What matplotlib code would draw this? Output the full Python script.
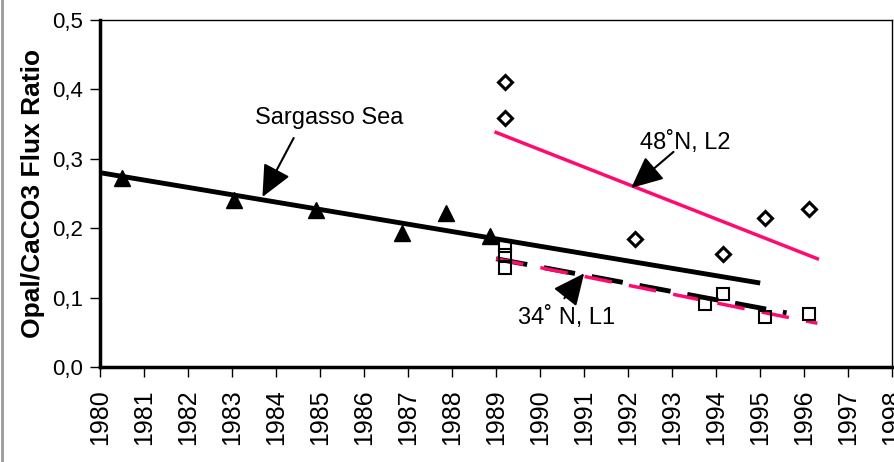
import numpy as np
import matplotlib.pyplot as plt

plt.rcParams['font.family'] = ['Liberation Sans', 'DejaVu Sans']

# Sargasso Sea (triangles)
sarg_year = [1980.5, 1983.05, 1984.9, 1986.85, 1987.85, 1988.85]
sarg_ratio = [0.272, 0.241, 0.226, 0.193, 0.222, 0.189]
sarg_fit_year = [1980.0, 1995.0]
sarg_fit_ratio = [0.280, 0.121]

# 48N, L2 (diamonds)
n48_year = [1989.2, 1989.2, 1992.15, 1994.15, 1995.1, 1996.1]
n48_ratio = [0.41, 0.359, 0.184, 0.163, 0.215, 0.228]
n48_fit_year = [1989.0, 1996.3]
n48_fit_ratio = [0.338, 0.156]

# 34N, L1 (squares)
n34_year = [1989.2, 1989.2, 1989.2, 1993.75, 1994.15, 1995.1, 1996.1]
n34_ratio = [0.143, 0.162, 0.174, 0.091, 0.105, 0.072, 0.076]
n34_fit_black_year = [1989.0, 1995.6]
n34_fit_black_ratio = [0.156, 0.078]
n34_fit_pink_year = [1989.0, 1996.3]
n34_fit_pink_ratio = [0.156, 0.063]

# labels: text, text position, arrow tail, arrow tip
labels = ['Sargasso Sea', '48˚N, L2', '34˚ N, L1']
label_pos = [(1985.2, 0.359), (1993.3, 0.324), (1990.6, 0.072)]
arrow_tail = [(1984.4, 0.33), (1993.03, 0.31), (1990.55, 0.099)]
arrow_tip = [(1983.69, 0.245), (1992.07, 0.258), (1991.0, 0.135)]

years = list(range(1980, 1999))
yticks = [0.0, 0.1, 0.2, 0.3, 0.4, 0.5]
pink = '#ff0a6e'

fig = plt.figure(figsize=(8.94, 4.62), dpi=100)
ax = fig.add_axes([0.1119, 0.2056, 0.8861, 0.7511])

ax.plot(sarg_fit_year, sarg_fit_ratio, color='black', lw=3.5, solid_capstyle='butt', zorder=2)
ax.plot(n48_fit_year, n48_fit_ratio, color=pink, lw=2.5, zorder=2)
ax.plot(n34_fit_black_year, n34_fit_black_ratio, color='black', lw=3.5, dashes=(6.5, 3.5),
        dash_capstyle='butt', zorder=2)
ax.plot(n34_fit_pink_year, n34_fit_pink_ratio, color=pink, lw=2.5, dashes=(8, 5),
        dash_capstyle='butt', zorder=3)

ax.plot(sarg_year, sarg_ratio, ls='none', marker='^', ms=11, color='black', zorder=4)
ax.plot(n48_year, n48_ratio, ls='none', marker='D', ms=7, mfc='white', mec='black', mew=2.2, zorder=4)
ax.plot(n34_year, n34_ratio, ls='none', marker='s', ms=8.5, mfc='none', mec='black', mew=1.5, zorder=4)

arrow = dict(arrowstyle='-|>,head_length=1.3,head_width=0.6', color='black', lw=1.5,
             shrinkA=0, shrinkB=0, mutation_scale=15)
for txt, pos, tail, tip in zip(labels, label_pos, arrow_tail, arrow_tip):
    ax.text(pos[0], pos[1], txt, fontsize=17, ha='center', va='center')
    ax.annotate('', xy=tip, xytext=tail, arrowprops=arrow)

ax.set_xlim(1980, 1998)
ax.set_ylim(0, 0.5)
ax.set_xticks(years)
ax.set_xticklabels([str(y) for y in years], rotation=90, fontsize=18)
ax.set_yticks(yticks)
ax.set_yticklabels([f'{v:.1f}'.replace('.', ',') for v in yticks], fontsize=16)
ax.tick_params(direction='out', length=7, width=1)
ax.tick_params(axis='x', pad=9)
ax.tick_params(axis='y', pad=5)
ax.set_ylabel('Opal/CaCO3 Flux Ratio', fontsize=19, fontweight='bold', labelpad=5)

for side in ['left', 'bottom']:
    ax.spines[side].set_linewidth(2.5)
for side in ['top', 'right']:
    ax.spines[side].set_linewidth(1.0)

fig.add_artist(plt.Line2D([0.002, 0.002], [0, 1], color='#999999', lw=2, transform=fig.transFigure))

fig.savefig('out.png', dpi=100)
